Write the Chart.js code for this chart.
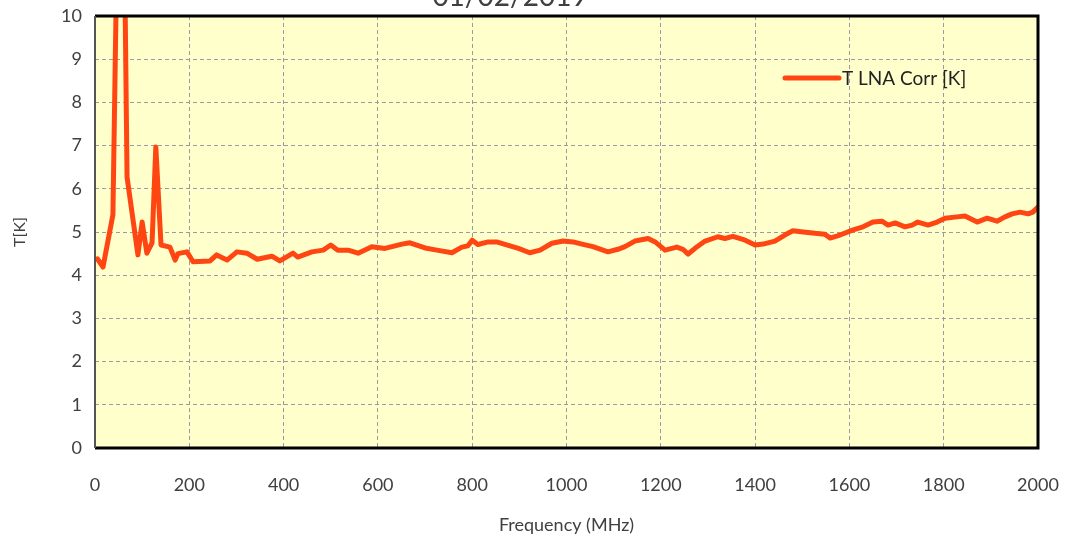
<!DOCTYPE html>
<html>
<head>
<meta charset="utf-8">
<script src="https://cdn.jsdelivr.net/npm/chart.js@4/dist/chart.umd.min.js"></script>
<style>
  html, body { margin: 0; padding: 0; background: #ffffff; }
  #wrap { position: relative; width: 1067px; height: 540px; }
</style>
</head>
<body>
<div id="wrap"><canvas id="c" width="1067" height="540"></canvas></div>
<script>
const chartTitle = "01/02/2019";
const seriesName = "T LNA Corr [K]";
const xAxisTitle = "Frequency (MHz)";
const yAxisTitle = "T[K]";

const freqs = [5, 17, 38, 50, 60, 68, 91, 100, 110, 121, 129, 140, 159, 170, 176, 195, 208, 244, 258, 280,
  301, 322, 344, 375, 392, 420, 430, 460, 484, 500, 515, 537, 558, 587, 615, 651, 668, 700, 725, 757,
  778, 791, 800, 812, 834, 852, 873, 898, 922, 944, 969, 993, 1014, 1033, 1056, 1088, 1109, 1124, 1145, 1173,
  1188, 1209, 1234, 1247, 1258, 1277, 1294, 1321, 1336, 1353, 1379, 1400, 1417, 1442, 1463, 1480, 1502, 1527, 1548, 1559,
  1580, 1608, 1629, 1650, 1669, 1682, 1697, 1718, 1733, 1745, 1767, 1786, 1803, 1828, 1845, 1871, 1892, 1913, 1930, 1945,
  1962, 1979, 1989, 2000];
const tLnaCorr = [4.38, 4.19, 5.4, 14, 14, 6.27, 4.47, 5.23, 4.51, 4.75, 6.97, 4.7, 4.65, 4.35, 4.5, 4.54, 4.31, 4.33, 4.47, 4.35,
  4.54, 4.51, 4.37, 4.44, 4.33, 4.51, 4.42, 4.54, 4.58, 4.70, 4.58, 4.58, 4.51, 4.66, 4.62, 4.72, 4.75, 4.63, 4.58, 4.52,
  4.65, 4.68, 4.81, 4.71, 4.77, 4.77, 4.70, 4.62, 4.52, 4.58, 4.74, 4.79, 4.77, 4.72, 4.66, 4.54, 4.60, 4.66, 4.79, 4.85,
  4.77, 4.58, 4.65, 4.60, 4.49, 4.66, 4.79, 4.89, 4.85, 4.90, 4.81, 4.70, 4.72, 4.79, 4.93, 5.03, 5.00, 4.97, 4.95, 4.86,
  4.93, 5.05, 5.12, 5.23, 5.25, 5.16, 5.21, 5.12, 5.16, 5.23, 5.16, 5.23, 5.32, 5.35, 5.37, 5.23, 5.32, 5.25, 5.35, 5.42,
  5.46, 5.42, 5.46, 5.58];

const xTicks = [0, 200, 400, 600, 800, 1000, 1200, 1400, 1600, 1800, 2000];
const yTicks = [0, 1, 2, 3, 4, 5, 6, 7, 8, 9, 10];

const FONT = "Lato, 'Open Sans', sans-serif";
const LINE_COLOR = "#ff4612";
const TEXT_COLOR = "#404040";

const decor = {
  id: 'decor',
  beforeDraw(chart) {
    const {ctx, chartArea: a} = chart;
    ctx.save();
    ctx.fillStyle = '#ffffcc';
    ctx.fillRect(a.left, a.top, a.right - a.left, a.bottom - a.top);
    ctx.restore();
  },
  afterDraw(chart) {
    const {ctx, chartArea: a} = chart;
    ctx.save();
    ctx.strokeStyle = '#000000';
    ctx.lineWidth = 3;
    ctx.beginPath();
    ctx.moveTo(a.left, a.top); ctx.lineTo(a.right, a.top); ctx.lineTo(a.right, a.bottom); ctx.lineTo(a.left, a.bottom);
    ctx.stroke();
    ctx.strokeStyle = '#555555';
    ctx.lineWidth = 2;
    ctx.beginPath();
    ctx.moveTo(a.left, a.top); ctx.lineTo(a.left, a.bottom);
    ctx.stroke();
    // title (partially above the canvas, as in the reference)
    ctx.fillStyle = TEXT_COLOR;
    ctx.font = "28px " + FONT;
    ctx.textAlign = 'center';
    ctx.textBaseline = 'alphabetic';
    ctx.fillText(chartTitle, 510, 6);
    // legend inside plot
    const ly = a.top + 62;
    const lx = a.right - 253;
    ctx.strokeStyle = LINE_COLOR;
    ctx.lineWidth = 5;
    ctx.lineCap = 'round';
    ctx.beginPath();
    ctx.moveTo(lx, ly); ctx.lineTo(lx + 54, ly);
    ctx.stroke();
    ctx.fillStyle = '#222222';
    ctx.font = "19px " + FONT;
    ctx.textAlign = 'left';
    ctx.textBaseline = 'middle';
    ctx.fillText(seriesName, lx + 57, ly + 1);
    ctx.restore();
  }
};

new Chart(document.getElementById('c'), {
  type: 'line',
  data: {
    datasets: [{
      label: seriesName,
      data: freqs.map((f, i) => ({x: f, y: tLnaCorr[i]})),
      borderColor: LINE_COLOR,
      backgroundColor: LINE_COLOR,
      borderWidth: 5,
      pointRadius: 0,
      tension: 0,
      borderJoinStyle: 'round',
      borderCapStyle: 'round',
      fill: false
    }]
  },
  options: {
    responsive: false,
    animation: false,
    devicePixelRatio: 1,
    layout: { padding: { top: 16, right: 29, left: 0, bottom: 0 } },
    plugins: { legend: { display: false }, title: { display: false }, tooltip: { enabled: false } },
    scales: {
      x: {
        type: 'linear', min: 0, max: 2000,
        afterBuildTicks: s => { s.ticks = xTicks.map(v => ({value: v})); },
        afterFit: s => { s.height = 92; s.paddingLeft = 0; s.paddingRight = 0; },
        ticks: { color: TEXT_COLOR, font: { family: FONT, size: 18 }, padding: 26, maxRotation: 0, callback: v => String(v) },
        grid: { color: '#9a9aa6', lineWidth: 1, drawTicks: false },
        border: { display: false, dash: [4, 3] },
        title: { display: true, text: xAxisTitle, color: TEXT_COLOR, font: { family: FONT, size: 18 }, padding: { top: 0, bottom: 4 } }
      },
      y: {
        type: 'linear', min: 0, max: 10,
        afterBuildTicks: s => { s.ticks = yTicks.map(v => ({value: v})); },
        afterFit: s => { s.width = 95; s.paddingTop = 0; s.paddingBottom = 0; },
        ticks: { color: TEXT_COLOR, font: { family: FONT, size: 18 }, padding: 13, callback: v => String(v) },
        grid: { color: '#9a9aa6', lineWidth: 1, drawTicks: false },
        border: { display: false, dash: [4, 3] },
        title: { display: true, text: yAxisTitle, color: TEXT_COLOR, font: { family: FONT, size: 16 }, padding: { top: 10, bottom: 0 } }
      }
    }
  },
  plugins: [decor]
});
</script>
</body>
</html>
